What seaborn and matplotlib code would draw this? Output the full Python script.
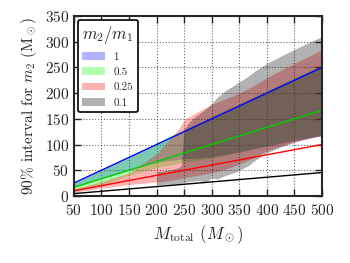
import numpy as np
import pandas as pd
import matplotlib
matplotlib.use("Agg")
import matplotlib.pyplot as plt
import seaborn as sns
from matplotlib.patches import Patch

# Data: true m2 lines (end points)
line_mtot = [50, 500]
line_q1 = [25, 250]
line_q05 = [16.7, 166.7]
line_q025 = [10, 100]
line_q01 = [4.5, 45.5]

# 90% intervals, q = 1
blue_m = [50, 100, 150, 200, 250, 300, 350, 400, 450, 500]
blue_lo = [17, 34, 50, 66, 72, 76, 86, 97, 108, 117]
blue_hi = [25, 50, 75, 100, 125, 150, 175, 200, 225, 250]

# q = 0.5
green_m = [50, 100, 150, 200, 225, 250, 300, 350, 400, 450, 500]
green_lo = [10, 20, 40, 55, 60, 66, 74, 85, 98, 110, 120]
green_hi = [25, 50, 75, 104, 118, 130, 155, 180, 205, 230, 255]

# q = 0.25
red_m = [50, 100, 150, 200, 225, 240, 250, 275, 300, 325, 350, 375, 400, 425, 450, 475, 500]
red_lo = [7, 15, 22, 27, 30, 33, 36, 40, 45, 52, 62, 74, 88, 97, 105, 112, 118]
red_hi = [14, 28, 45, 82, 112, 130, 148, 164, 178, 189, 200, 214, 230, 244, 258, 271, 285]

# q = 0.1
gray_m = [200, 210, 220, 230, 240, 245, 250, 260, 275, 290, 300, 310, 325, 340, 350, 365,
          380, 400, 425, 450, 475, 500]
gray_lo = [22, 22, 23, 23, 24, 25, 26, 28, 30, 28, 35, 33, 40, 45, 50, 58, 70, 84, 95,
           105, 112, 118]
gray_hi = [47, 48, 50, 52, 55, 60, 130, 145, 158, 170, 180, 192, 205, 215, 222, 232, 244,
           258, 272, 285, 298, 310]

ratio_labels = ['1', '0.5', '0.25', '0.1']

sns.set_style('ticks')
plt.rcParams['font.family'] = ['cmr10']
plt.rcParams['mathtext.fontset'] = 'cm'
plt.rcParams['axes.formatter.use_mathtext'] = True

fig = plt.figure(figsize=(3.5, 2.63), dpi=100)
ax = fig.add_axes([0.211, 0.255, 0.709, 0.684])

alpha = 0.3
ax.fill_between(blue_m, blue_lo, blue_hi, color='b', alpha=alpha, lw=0)
ax.fill_between(green_m, green_lo, green_hi, color='lime', alpha=alpha, lw=0)
ax.fill_between(red_m, red_lo, red_hi, color='r', alpha=alpha, lw=0)
ax.fill_between(gray_m, gray_lo, gray_hi, color='k', alpha=alpha, lw=0)

lines = pd.DataFrame({
    'M': line_mtot * 4,
    'm2': line_q1 + line_q05 + line_q025 + line_q01,
    'q': [r for r in ratio_labels for _ in line_mtot],
})
sns.lineplot(data=lines, x='M', y='m2', hue='q', hue_order=ratio_labels,
             palette=['b', '#00cc00', 'r', 'k'], lw=1.0, legend=False, ax=ax)

ax.set_xlim(50, 500)
ax.set_ylim(0, 350)
ax.set_xticks(np.arange(50, 501, 50))
ax.set_yticks(np.arange(0, 351, 50))
ax.grid(True, ls=':', color='0.4', lw=0.8)
ax.tick_params(direction='in', length=5, width=1, top=True, right=True, labelsize=11)
ax.tick_params(axis='x', pad=5)
for s in ax.spines.values():
    s.set_linewidth(1.5)

ax.set_xlabel(r'$M_{\rm total}$ $(M_\odot)$', fontsize=12)
ax.set_ylabel(r'90% interval for $m_2$ (M$_\odot$)', fontsize=11)

handles = [Patch(facecolor=c, alpha=alpha, lw=0) for c in ['b', 'lime', 'r', 'k']]
leg = ax.legend(handles, ratio_labels, title=r'$m_2/m_1$', loc='upper left',
                fontsize=8, title_fontsize=12, handlelength=2.0, handleheight=0.7,
                borderaxespad=0.35, frameon=True, fancybox=True, framealpha=1)
leg.get_frame().set_edgecolor('k')
leg.get_frame().set_linewidth(1.2)

fig.savefig('out.png', dpi=100)
